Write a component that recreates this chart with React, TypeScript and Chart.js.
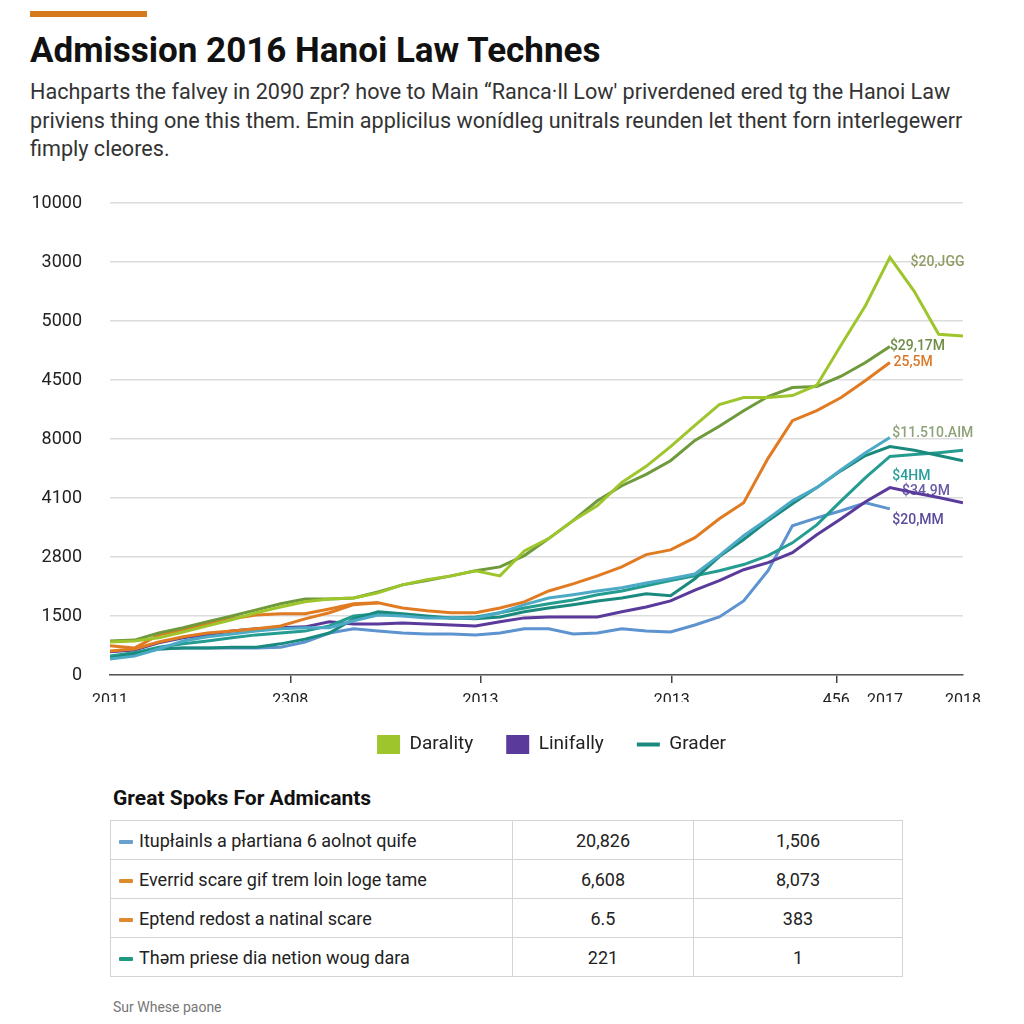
import React, { useEffect, useRef } from 'react';
import { Chart, registerables } from 'chart.js';

Chart.register(...registerables);

// ---------- data ----------
const xGrid = [
  2011.0, 2011.2, 2011.4, 2011.6, 2011.8, 2012.0, 2012.2, 2012.4, 2012.6, 2012.8,
  2013.0, 2013.2, 2013.4, 2013.6, 2013.8, 2014.0, 2014.2, 2014.4, 2014.6, 2014.8,
  2015.0, 2015.2, 2015.4, 2015.6, 2015.8, 2016.0, 2016.2, 2016.4, 2016.6, 2016.8,
  2017.0, 2017.2, 2017.4, 2017.6, 2017.8, 2018.0,
];

const seriesNames = ['Darality', 'Olive', 'Orange', 'Orange B', 'Cyan', 'Teal', 'Grader', 'Linifally', 'Blue'];
const seriesColors = ['#9ec62c', '#6f9a3c', '#e07b22', '#e07b22', '#4daac6', '#1a8a7e', '#249c90', '#5a3b9b', '#5d93cf'];

const darality = [700, 720, 790, 910, 1040, 1170, 1320, 1440, 1550, 1610, 1630, 1740, 1910, 2020, 2100, 2210, 2100, 2630, 2890, 3270, 3590, 4080, 4420, 4840, 5290, 5730, 5880, 5880, 5920, 6140, 6990, 7830, 8850, 8130, 7220, 7180];
const olive = [720, 740, 890, 1000, 1130, 1250, 1380, 1510, 1610, 1610, 1630, 1760, 1910, 2000, 2100, 2210, 2290, 2530, 2890, 3270, 3690, 4010, 4250, 4540, 4970, 5270, 5600, 5900, 6090, 6110, 6330, 6620, 6960, null, null, null];
const orange = [620, 570, 850, 960, 1080, 1190, 1270, 1300, 1300, 1400, 1510, 1530, 1420, 1360, 1320, 1320, 1420, 1550, 1780, 1930, 2100, 2290, 2550, 2650, 2910, 3310, 3650, 4590, 5390, 5600, 5880, 6240, 6620, null, null, null];
const orangeB = [510, 550, 700, 810, 890, 930, 980, 1040, 1190, 1320, 1490, 1530, null, null, null, null, null, null, null, null, null, null, null, null, null, null, null, null, null, null, null, null, null, null, null, null];
const cyan = [340, 400, 550, 720, 810, 870, 930, 980, 1000, 1000, 1150, 1270, 1250, 1210, 1210, 1210, 1320, 1490, 1630, 1700, 1780, 1850, 1950, 2040, 2140, 2530, 2950, 3310, 3690, 3970, 4350, 4710, 5030, null, null, null];
const tealA = [360, 450, 550, 570, 570, 590, 590, 660, 760, 890, 1190, 1340, 1300, 1250, 1210, 1190, 1230, 1340, 1420, 1490, 1570, 1630, 1720, 1680, 2040, 2510, 2870, 3270, 3630, 3970, 4330, 4650, 4840, 4760, 4650, 4540];
const grader = [400, 470, 590, 660, 720, 790, 850, 890, 930, 1040, 1250, 1300, 1270, 1230, 1210, 1230, 1320, 1420, 1510, 1590, 1700, 1780, 1890, 2000, 2100, 2210, 2340, 2530, 2800, 3180, 3690, 4180, 4630, 4670, 4710, 4760];
const linifally = [490, 530, 680, 790, 850, 930, 980, 1000, 1020, 1130, 1080, 1080, 1100, 1080, 1060, 1040, 1130, 1210, 1230, 1230, 1230, 1340, 1440, 1570, 1800, 2000, 2230, 2380, 2590, 2970, 3310, 3670, 3970, 3860, 3760, 3650];
const blue = [380, 470, 550, 570, 570, 570, 570, 590, 700, 890, 980, 930, 890, 870, 870, 850, 890, 980, 980, 870, 890, 980, 930, 910, 1060, 1230, 1570, 2210, 3160, 3330, 3480, 3650, 3520, null, null, null];

const seriesValues = [darality, olive, orange, orangeB, cyan, tealA, grader, linifally, blue];

const xTickVals = [2011, 2012.48, 2014.04, 2015.61, 2016.96, 2017.36, 2018];
const xTickLabels = ['2011', '2308', '2013', '2013', '456', '2017', '2018'];
const xTickMarks = [false, true, true, true, true, false, false];

const yTickVals = [0, 1250, 2500, 3750, 5000, 6250, 7500, 8750, 10000];
const yTickLabels = ['0', '1500', '2800', '4100', '8000', '4500', '5000', '3000', '10000'];

const annTexts = ['$20,JGG', '$29,17M', '25,5M', '$11.510.AIM', '$4HM', '$34.9M', '$20,MM'];
const annX = [2017.57, 2017.4, 2017.43, 2017.42, 2017.42, 2017.5, 2017.42];
const annY = [8730, 6960, 6620, 5120, 4200, 3890, 3270];
const annColors = ['#8e9c64', '#6f8c46', '#d97a2b', '#8fa27a', '#2a9d9d', '#6b5ba5', '#5b4a9e'];

const legendLabels = ['Darality', 'Linifally', 'Grader'];
const legendColors = ['#9ec62c', '#5a3b9b', '#1a8a7e'];
const legendStyles = ['rect', 'rect', 'line'];

const tableRows = [
  'Itupłainls a płartiana 6 aolnot quife',
  'Everrid scare gif trem loin loge tame',
  'Eptend redost a natinal scare',
  'Thəm priese dia netion woug dara',
];
const tableCol2 = ['20,826', '6,608', '6.5', '221'];
const tableCol3 = ['1,506', '8,073', '383', '1'];
const tableDash = ['#6aa0d0', '#e08a30', '#e08a30', '#1f9a80'];

// ---------- plugins ----------
const endLabelPlugin = {
  id: 'endLabels',
  beforeDatasetsDraw(chart: any) {
    const { ctx, scales } = chart;
    ctx.save();
    ctx.font = '500 14px Roboto';
    ctx.textBaseline = 'middle';
    ctx.textAlign = 'left';
    annTexts.forEach((t, i) => {
      ctx.fillStyle = annColors[i];
      ctx.fillText(t, scales.x.getPixelForValue(annX[i]), scales.y.getPixelForValue(annY[i]));
    });
    ctx.restore();
  },
};

const legendShiftPlugin = {
  id: 'legendShift',
  afterLayout(chart: any) {
    if (chart.legend) {
      chart.legend.left += 15;
      chart.legend.right += 15;
    }
  },
};

function LineChart() {
  const ref = useRef<HTMLCanvasElement | null>(null);
  useEffect(() => {
    if (!ref.current) return;
    const datasets = seriesValues.map((vals, si) => ({
      label: seriesNames[si],
      data: vals
        .map((v, i) => ({ x: xGrid[i], y: v }))
        .filter((p) => p.y !== null),
      borderColor: seriesColors[si],
      backgroundColor: seriesColors[si],
      borderWidth: 3,
      pointRadius: 0,
      tension: 0,
      fill: false,
    }));
    const chart = new Chart(ref.current, {
      type: 'line',
      data: { datasets },
      plugins: [endLabelPlugin, legendShiftPlugin],
      options: {
        animation: false,
        responsive: false,
        devicePixelRatio: 1,
        layout: { padding: { top: 23, left: 0, right: 61, bottom: 16 } },
        plugins: {
          tooltip: { enabled: false },
          legend: {
            position: 'bottom',
            fullSize: false,
            onClick: () => {},
            labels: {
              usePointStyle: true,
              pointStyleWidth: 23,
              boxHeight: 19,
              padding: 33,
              color: '#222',
              font: { family: 'Roboto', size: 19 },
              generateLabels: () =>
                legendLabels.map((t, i) => ({
                  text: t,
                  fillStyle: legendColors[i],
                  strokeStyle: legendColors[i],
                  lineWidth: legendStyles[i] === 'line' ? 4 : 0,
                  pointStyle: legendStyles[i],
                  hidden: false,
                  fontColor: '#222',
                  datasetIndex: i,
                })),
            },
          },
        },
        scales: {
          x: {
            type: 'linear',
            min: 2011,
            max: 2018,
            afterBuildTicks: (axis: any) => {
              axis.ticks = xTickVals.map((v) => ({ value: v }));
            },
            afterFit: (scale: any) => {
              scale.height = 27;
            },
            ticks: {
              autoSkip: false,
              maxRotation: 0,
              padding: 8,
              color: '#222',
              font: { family: 'Roboto', size: 16 },
              callback: (_v: any, i: number) => xTickLabels[i],
            },
            grid: {
              drawOnChartArea: false,
              drawTicks: true,
              tickLength: 8,
              lineWidth: 1.5,
              color: (c: any) => (xTickMarks[c.index] ? '#444' : 'rgba(0,0,0,0)'),
            },
            border: { display: true, color: '#555', width: 1.5 },
          },
          y: {
            type: 'linear',
            min: 0,
            max: 10000,
            afterBuildTicks: (axis: any) => {
              axis.ticks = yTickVals.map((v) => ({ value: v }));
            },
            afterFit: (scale: any) => {
              scale.width = 110;
            },
            ticks: {
              padding: 0,
              color: '#222',
              font: { family: 'Roboto', size: 18 },
              callback: (_v: any, i: number) => yTickLabels[i],
            },
            grid: { color: '#dcdcdc', lineWidth: 1.5, drawTicks: true, tickLength: 28, tickColor: 'rgba(0,0,0,0)' },
            border: { display: false },
          },
        },
      } as any,
    });
    return () => chart.destroy();
  }, []);
  return <canvas ref={ref} width={1024} height={600} style={{ position: 'absolute', left: 0, top: 180, width: 1024, height: 600 }} />;
}

export default function App() {
  const font = 'Roboto, "Noto Sans", sans-serif';
  const cell: React.CSSProperties = {
    border: '1.5px solid #d4d4d4',
    height: 38,
    padding: 0,
    fontSize: 18,
    color: '#222',
  };
  return (
    <div style={{ position: 'absolute', left: 0, top: 0, width: 1024, height: 1024, overflow: 'hidden', background: '#fff', fontFamily: font }}>
      <div style={{ position: 'absolute', left: 30, top: 11, width: 117, height: 6, background: '#d4791c' }} />
      <div style={{ position: 'absolute', left: 30, top: 29, fontSize: 35, fontWeight: 700, lineHeight: '44px', color: '#111', whiteSpace: 'nowrap' }}>
        Admission 2016 Hanoi Law Technes
      </div>
      <div style={{ position: 'absolute', left: 30, top: 78, fontSize: 21.6, lineHeight: '28.5px', color: '#333', whiteSpace: 'nowrap' }}>
        Hachparts the falvey in 2090 zpr? hove to Main “Ranca·ll Low' priverdened ered tg the Hanoi Law
        <br />
        priviens thing one this them. Emin applicilus wonídleg unitrals reunden let thent forn interlegewerr
        <br />
        fimply cleores.
      </div>
      <LineChart />
      <div style={{ position: 'absolute', left: 113, top: 785, fontSize: 21, fontWeight: 700, lineHeight: '26px', color: '#111' }}>
        Great Spoks For Admicants
      </div>
      <table style={{ position: 'absolute', left: 110, top: 820, width: 792, borderCollapse: 'collapse', tableLayout: 'fixed' }}>
        <colgroup>
          <col style={{ width: 402 }} />
          <col style={{ width: 181 }} />
          <col style={{ width: 209 }} />
        </colgroup>
        <tbody>
          {tableRows.map((r, i) => (
            <tr key={i}>
              <td style={{ ...cell, paddingLeft: 8, whiteSpace: 'nowrap' }}>
                <span style={{ display: 'inline-block', width: 14, height: 4, background: tableDash[i], verticalAlign: 'middle', marginRight: 6, borderRadius: 1 }} />
                {r}
              </td>
              <td style={{ ...cell, textAlign: 'center' }}>{tableCol2[i]}</td>
              <td style={{ ...cell, textAlign: 'center' }}>{tableCol3[i]}</td>
            </tr>
          ))}
        </tbody>
      </table>
      <div style={{ position: 'absolute', left: 113, top: 998, fontSize: 14, color: '#777', lineHeight: '18px' }}>Sur Whese paone</div>
    </div>
  );
}
